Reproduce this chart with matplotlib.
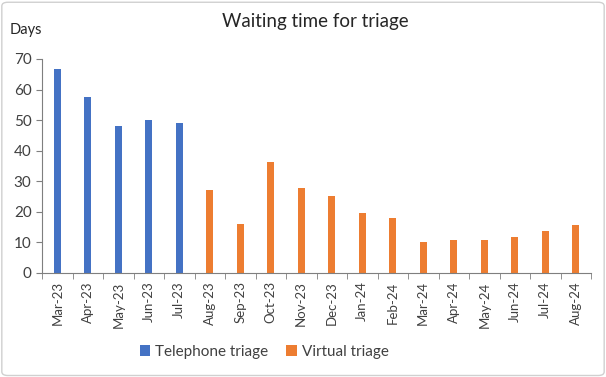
import matplotlib.pyplot as plt
import numpy as np
from matplotlib.patches import FancyBboxPatch

plt.rcParams['font.family'] = ['Lato', 'DejaVu Sans']

months = ["Mar-23", "Apr-23", "May-23", "Jun-23", "Jul-23", "Aug-23", "Sep-23",
          "Oct-23", "Nov-23", "Dec-23", "Jan-24", "Feb-24", "Mar-24", "Apr-24",
          "May-24", "Jun-24", "Jul-24", "Aug-24"]
telephone = [66.6, 57.5, 48.0, 50.1, 49.2]
virtual = [27.2, 16.0, 36.4, 27.7, 25.1, 19.6, 18.0, 10.1, 10.8, 10.9, 11.8, 13.6, 15.7]

blue = "#4472C4"
orange = "#ED7D31"

fig = plt.figure(figsize=(6.06, 3.77), dpi=100)
ax = fig.add_axes([42/606, 1-273/377, (591-42)/606, (273-59)/377])

x = np.arange(len(months))
n_tel = len(telephone)
ax.bar(x[:n_tel], telephone, width=0.24, color=blue, label="Telephone triage")
ax.bar(x[n_tel:], virtual, width=0.24, color=orange, label="Virtual triage")

ax.set_xlim(-0.5, len(months) - 0.5)
ax.set_ylim(0, 70)
ax.set_yticks(range(0, 71, 10))
ax.set_xticks(x)
ax.set_xticklabels(months, rotation=90, fontsize=9.5, color="#404040")
ax.set_xticks(np.arange(-0.5, len(months), 1), minor=True)
ax.tick_params(axis='x', which='major', length=0, pad=6)
ax.tick_params(axis='x', which='minor', length=4, color="#7f7f7f")
ax.tick_params(axis='y', length=4, color="#7f7f7f", labelsize=11, labelcolor="#404040")

for s in ["top", "right"]:
    ax.spines[s].set_visible(False)
for s in ["left", "bottom"]:
    ax.spines[s].set_color("#7f7f7f")

fig.text(315/606, 1-22/377, "Waiting time for triage", ha="center", va="center",
         fontsize=13.5, color="#262626")
fig.text(10/606, 1-30/377, "Days", ha="left", va="center", fontsize=10.5, color="#262626")

fig.legend(loc="center", bbox_to_anchor=(264/606, 1-352/377), ncol=2, frameon=False,
           fontsize=11, handlelength=0.7, handleheight=0.7, columnspacing=1.2,
           handletextpad=0.3, labelcolor="#404040")

border = FancyBboxPatch((0.003, 0.004), 0.994, 0.99, boxstyle="round,pad=0,rounding_size=0.01",
                        transform=fig.transFigure, fill=False, edgecolor="#d0d0d0", linewidth=1)
fig.patches.append(border)

fig.savefig("out.png", dpi=100)
